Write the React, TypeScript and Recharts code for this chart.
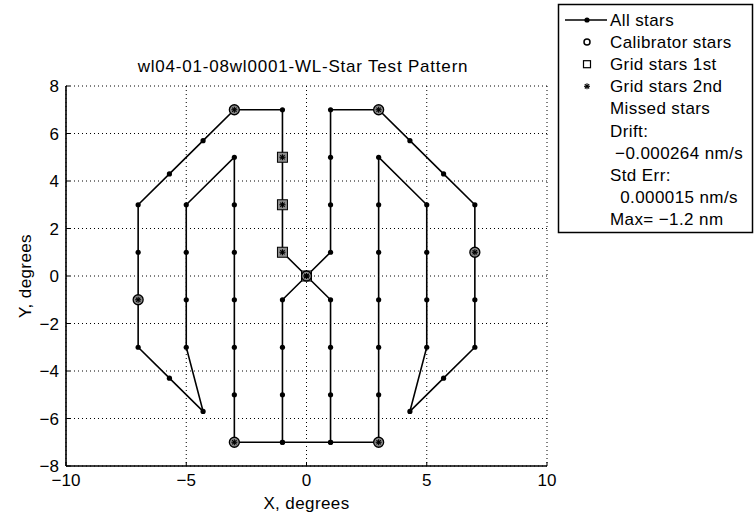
import React from 'react';
import { ScatterChart, Scatter, XAxis, YAxis, CartesianGrid } from 'recharts';

// Scan path through all stars, in the order they were observed
const pathX = [
  -1, -1, -1, -1, 0, 1, 1, 1, 1, 3, 4.3, 5.7, 7, 7, 7, 7, 5.7, 4.3, 5, 5, 5, 5,
  3, 3, 3, 3, 3, 3, 3, 1, -1, -3, -3, -3, -3, -3, -3, -3, -5, -5, -5, -5, -4.3, -5.7,
  -7, -7, -7, -7, -5.7, -4.3, -3, -1, -1, -1, -1, 0, 1, 1, 1, 1,
];
const pathY = [
  -7, -5, -3, -1, 0, 1, 3, 5, 7, 7, 5.7, 4.3, 3, 1, -1, -3, -4.3, -5.7, -3, -1, 1, 3,
  5, 3, 1, -1, -3, -5, -7, -7, -7, -7, -5, -3, -1, 1, 3, 5, 3, 1, -1, -3, -5.7, -4.3,
  -3, -1, 1, 3, 4.3, 5.7, 7, 7, 5, 3, 1, 0, -1, -3, -5, -7,
];

const calibX = [-3, 3, -7, 7, -3, 3, 0];
const calibY = [7, 7, -1, 1, -7, -7, 0];

const grid1X = [-1, -1, -1, 0];
const grid1Y = [5, 3, 1, 0];

const xTicks = [-10, -5, 0, 5, 10];
const yTicks = [-8, -6, -4, -2, 0, 2, 4, 6, 8];

const title = 'wl04-01-08wl0001-WL-Star Test Pattern';
const legendLabels = ['All stars', 'Calibrator stars', 'Grid stars 1st', 'Grid stars 2nd', 'Missed stars'];
const statLines = ['Drift:', ' \u22120.000264 nm/s', 'Std Err:', '  0.000015 nm/s', 'Max= \u22121.2 nm'];

const toPoints = (xs: number[], ys: number[]) => xs.map((x, i) => ({ x, y: ys[i] }));

const pathData = toPoints(pathX, pathY);
const calibData = toPoints(calibX, calibY);
const grid1Data = toPoints(grid1X, grid1Y);
const grid2Data = [...calibData, ...grid1Data];

const FONT = '"Liberation Sans", Arial, Helvetica, sans-serif';
const fmt = (v: number) => (v < 0 ? `\u2212${Math.abs(v)}` : `${v}`);

const DotShape = (p: any) => <circle cx={p.cx} cy={p.cy} r={2.6} fill="#000" />;

const CalibShape = (p: any) => (
  <circle cx={p.cx} cy={p.cy} r={5} fill="#8c8c8c" stroke="#000" strokeWidth={1.3} />
);

const SquareShape = (p: any) => (
  <rect x={p.cx - 5} y={p.cy - 5} width={10} height={10} fill="#8c8c8c" stroke="#000" strokeWidth={1} />
);

const StarShape = (p: any) => {
  const { cx, cy } = p;
  const s = 3;
  return (
    <g stroke="#000" strokeWidth={1.1}>
      <line x1={cx - s} y1={cy} x2={cx + s} y2={cy} />
      <line x1={cx} y1={cy - s} x2={cx} y2={cy + s} />
      <line x1={cx - 2.2} y1={cy - 2.2} x2={cx + 2.2} y2={cy + 2.2} />
      <line x1={cx - 2.2} y1={cy + 2.2} x2={cx + 2.2} y2={cy - 2.2} />
    </g>
  );
};

function LegendBox() {
  const rowY = (i: number) => 20 + i * 22.1;
  const mx = 587;
  return (
    <g fontFamily={FONT} fontSize={17} fill="#000" letterSpacing={0.4}>
      <rect x={558.5} y={4.5} width={194} height={228} fill="#fff" stroke="#000" strokeWidth={1.5} />
      <line x1={565} y1={rowY(0)} x2={607} y2={rowY(0)} stroke="#000" strokeWidth={1.5} />
      <DotShape cx={mx} cy={rowY(0)} />
      <circle cx={mx} cy={rowY(1)} r={3} fill="none" stroke="#000" strokeWidth={1.5} />
      <rect x={mx - 3.5} y={rowY(2) - 3.5} width={7} height={7} fill="none" stroke="#000" strokeWidth={1.2} />
      <StarShape cx={mx} cy={rowY(3)} />
      {legendLabels.map((t, i) => (
        <text key={t} x={610} y={rowY(i) + 6}>
          {t}
        </text>
      ))}
      {statLines.map((t, i) => (
        <text key={t} x={610} y={rowY(i + 5) + 6} style={{ whiteSpace: 'pre' }}>
          {t}
        </text>
      ))}
    </g>
  );
}

export default function App() {
  const tickStyle = { fontSize: 17, fill: '#000', fontFamily: FONT };
  const labelStyle = { fontSize: 17, fill: '#000', fontFamily: FONT, letterSpacing: 0.4 };
  return (
    <div style={{ position: 'absolute', left: 0, top: 0, width: 754, height: 517, background: '#fff' }}>
      <ScatterChart width={754} height={517} margin={{ top: 86, right: 207, bottom: 8, left: 16 }}>
        <CartesianGrid stroke="#000" strokeDasharray="1 3" strokeWidth={1} />
        <XAxis
          type="number"
          dataKey="x"
          domain={[-10, 10]}
          ticks={xTicks}
          tickFormatter={fmt}
          height={43}
          tick={tickStyle}
          tickSize={-4}
          tickMargin={12}
          axisLine={{ stroke: '#000', strokeWidth: 1.6 }}
          tickLine={{ stroke: '#000' }}
          label={{ value: 'X, degrees', position: 'insideBottom', offset: 0, style: labelStyle }}
        />
        <YAxis
          type="number"
          dataKey="y"
          domain={[-8, 8]}
          ticks={yTicks}
          tickFormatter={fmt}
          width={50}
          tick={tickStyle}
          tickSize={-4}
          tickMargin={11}
          axisLine={{ stroke: '#000', strokeWidth: 1.6 }}
          tickLine={{ stroke: '#000' }}
          label={{
            value: 'Y, degrees',
            angle: -90,
            position: 'insideLeft',
            offset: 9,
            style: { ...labelStyle, textAnchor: 'middle' },
          }}
        />
        <Scatter
          name="All stars"
          data={pathData}
          line={{ stroke: '#000', strokeWidth: 1.6 }}
          lineType="joint"
          shape={DotShape}
          isAnimationActive={false}
        />
        <Scatter name="Grid stars 1st" data={grid1Data} shape={SquareShape} isAnimationActive={false} />
        <Scatter name="Calibrator stars" data={calibData} shape={CalibShape} isAnimationActive={false} />
        <Scatter name="Grid stars 2nd" data={grid2Data} shape={StarShape} isAnimationActive={false} />
      </ScatterChart>
      <svg width={754} height={517} style={{ position: 'absolute', left: 0, top: 0, pointerEvents: 'none' }}>
        <text x={303} y={72} textAnchor="middle" fontFamily={FONT} fontSize={17} letterSpacing={0.8} fill="#000">
          {title}
        </text>
        <LegendBox />
      </svg>
    </div>
  );
}
